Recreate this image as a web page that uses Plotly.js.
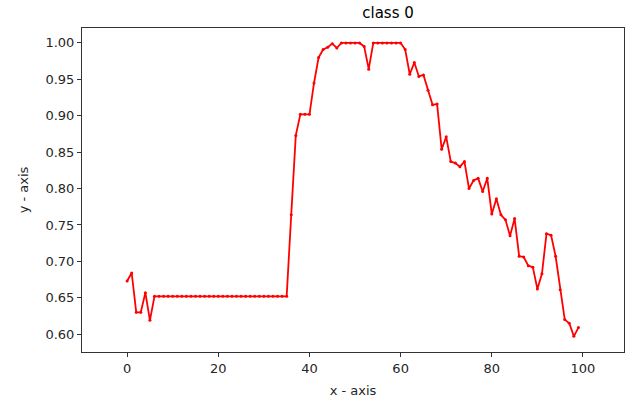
<!DOCTYPE html>
<html>
<head>
<meta charset="utf-8">
<script src="https://cdn.plot.ly/plotly-3.0.1.min.js"></script>
<style>html,body{margin:0;padding:0;background:#fff;}#chart{width:625px;height:402px;}</style>
</head>
<body>
<div id="chart"></div>
<script>
// x positions: 0..99
var xValues = [];
for (var i = 0; i < 100; i++) { xValues.push(i); }

var yStart = [0.673, 0.684, 0.630, 0.630, 0.657, 0.619];
var yFlat = [0.652, 0.652, 0.652, 0.652, 0.652, 0.652, 0.652, 0.652, 0.652, 0.652,
             0.652, 0.652, 0.652, 0.652, 0.652, 0.652, 0.652, 0.652, 0.652, 0.652,
             0.652, 0.652, 0.652, 0.652, 0.652, 0.652, 0.652, 0.652, 0.652, 0.652];
var yRise = [0.764, 0.873, 0.902, 0.902, 0.902, 0.945, 0.980, 0.991, 0.994, 0.999,
             0.993, 1.000, 1.000, 1.000, 1.000, 1.000, 0.995, 0.964, 1.000, 1.000,
             1.000, 1.000, 1.000, 1.000, 1.000];
var yFall = [0.991, 0.957, 0.973, 0.954, 0.956, 0.935, 0.915, 0.916, 0.854, 0.871,
             0.837, 0.835, 0.830, 0.837, 0.800, 0.811, 0.814, 0.796, 0.814, 0.765,
             0.786, 0.764, 0.757, 0.735, 0.759, 0.707, 0.706, 0.694, 0.692, 0.662,
             0.683, 0.738, 0.736, 0.707, 0.661, 0.620, 0.615, 0.597, 0.609];
var yValues = yStart.concat(yFlat, yRise, yFall);

var trace = {
  x: xValues,
  y: yValues,
  type: 'scatter',
  mode: 'lines+markers',
  line: {color: '#ff0000', width: 1.8},
  marker: {color: '#ff0000', size: 3},
  hoverinfo: 'skip'
};

var font = {family: 'DejaVu Sans, sans-serif', size: 13, color: '#262626'};

var layout = {
  width: 625,
  height: 402,
  margin: {l: 82, r: 1, t: 28, b: 50},
  paper_bgcolor: '#ffffff',
  plot_bgcolor: '#ffffff',
  font: font,
  showlegend: false,
  title: {
    text: 'class 0',
    font: {family: 'DejaVu Sans, sans-serif', size: 15, color: '#000000'},
    x: 0.5646, xref: 'paper', xanchor: 'center',
    y: 0.968, yref: 'container', yanchor: 'middle'
  },
  xaxis: {
    range: [-9.9, 109],
    tickvals: [0, 20, 40, 60, 80, 100],
    ticktext: ['0', '20', '40', '60', '80', '100'],
    ticks: 'outside', ticklen: 4, tickwidth: 1, tickcolor: '#333',
    showline: true, linecolor: '#333', linewidth: 1, mirror: true,
    showgrid: false, zeroline: false,
    tickfont: font,
    title: {text: 'x - axis', font: font, standoff: 11}
  },
  yaxis: {
    range: [0.5755, 1.0205],
    tickvals: [0.60, 0.65, 0.70, 0.75, 0.80, 0.85, 0.90, 0.95, 1.00],
    ticktext: ['0.60', '0.65', '0.70', '0.75', '0.80', '0.85', '0.90', '0.95', '1.00'],
    ticks: 'outside', ticklen: 4, tickwidth: 1, tickcolor: '#333',
    showline: true, linecolor: '#333', linewidth: 1, mirror: true,
    showgrid: false, zeroline: false,
    tickfont: font,
    title: {text: 'y - axis', font: font, standoff: 13}
  }
};

Plotly.newPlot('chart', [trace], layout, {displayModeBar: false, staticPlot: true});
</script>
</body>
</html>
